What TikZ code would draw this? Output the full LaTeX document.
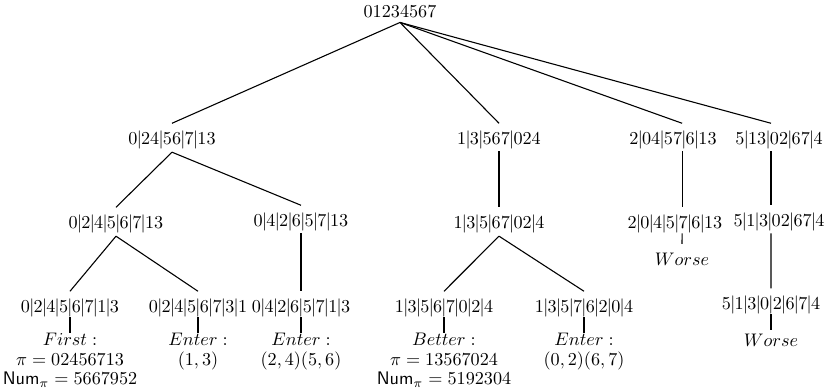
\documentclass[tikz,border=0pt]{standalone}
\newcommand{\vb}{\mathord{\mkern-0.7mu|\mkern-0.7mu}}
\begin{document}
\begin{tikzpicture}[x=0.55pt,y=-0.55pt,
  t/.style={inner sep=0pt, text height=7.5pt, text depth=2.5pt},
  lab/.style={inner sep=0pt, anchor=north, align=center, font=\fontsize{10}{10.6}\selectfont},
  link/.style={line width=0.6pt}]
\useasboundingbox (0,0) rectangle (828,389);
% nodes
\node[t] (r) at (400,13) {$01234567$};
\node[t] (a) at (172,140) {$0\vb24\vb56\vb7\vb13$};
\node[t] (b) at (499,140) {$1\vb3\vb567\vb024$};
\node[t] (c) at (673,140) {$2\vb04\vb57\vb6\vb13$};
\node[t] (d) at (779,140) {$5\vb13\vb02\vb67\vb4$};
\node[t] (aa) at (116,224) {$0\vb2\vb4\vb5\vb6\vb7\vb13$};
\node[t] (ab) at (301,222) {$0\vb4\vb2\vb6\vb5\vb7\vb13$};
\node[t] (ba) at (499,224) {$1\vb3\vb5\vb67\vb02\vb4$};
\node[t] (ca) at (675,224) {$2\vb0\vb4\vb5\vb7\vb6\vb13$};
\node[t] (da) at (779,222) {$5\vb1\vb3\vb02\vb67\vb4$};
\node[t] (aaa) at (70,308) {$0\vb2\vb4\vb5\vb6\vb7\vb1\vb3$};
\node[t] (aab) at (198,308) {$0\vb2\vb4\vb5\vb6\vb7\vb3\vb1$};
\node[t] (aba) at (301,308) {$0\vb4\vb2\vb6\vb5\vb7\vb1\vb3$};
\node[t] (baa) at (444,308) {$1\vb3\vb5\vb6\vb7\vb0\vb2\vb4$};
\node[t] (bab) at (584,308) {$1\vb3\vb5\vb7\vb6\vb2\vb0\vb4$};
\node[t] (daa) at (771,305) {$5\vb1\vb3\vb0\vb2\vb6\vb7\vb4$};
% labels
\node[lab] (laaa) at (70,333) {$First:$\\$\pi=02456713$\\$\mathsf{Num}_\pi=5667952$};
\node[lab] (laab) at (198,333) {$Enter:$\\$(1,3)$};
\node[lab] (laba) at (301,333) {$Enter:$\\$(2,4)(5,6)$};
\node[lab] (lbaa) at (444,333) {$Better:$\\$\pi=13567024$\\$\mathsf{Num}_\pi=5192304$};
\node[lab] (lbab) at (584,333) {$Enter:$\\$(0,2)(6,7)$};
\node[lab] (lca) at (682,253) {$Worse$};
\node[lab] (ldaa) at (771,334) {$Worse$};
% connectors from root
\draw[link] (r.south) -- ([yshift=4pt]a.north);
\draw[link] (r.south) -- ([yshift=4pt]b.north);
\draw[link] (r.south) -- ([xshift=5pt,yshift=4pt]c.north);
\draw[link] (r.south) -- ([xshift=-4.4pt,yshift=4pt]d.north);
% level 1 -> 2
\draw[link] ([yshift=-1.5pt]a.south) -- ([yshift=4pt]aa.north);
\draw[link] ([yshift=-1.5pt]a.south) -- ([yshift=4pt]ab.north);
\draw[link] ([yshift=-1pt]b.south) -- ([yshift=4pt]ba.north);
\draw[link] ([xshift=5pt,yshift=-1pt]c.south) -- ([xshift=3.9pt,yshift=4pt]ca.north);
\draw[link] ([xshift=-4.4pt,yshift=-1pt]d.south) -- ([xshift=-4.4pt,yshift=4pt]da.north);
% level 2 -> 3
\draw[link] ([yshift=-1.5pt]aa.south) -- ([yshift=4pt]aaa.north);
\draw[link] ([yshift=-1.5pt]aa.south) -- ([yshift=4pt]aab.north);
\draw[link] ([yshift=-1pt]ab.south) -- ([yshift=4pt]aba.north);
\draw[link] ([yshift=-1.5pt]ba.south) -- ([yshift=4pt]baa.north);
\draw[link] ([yshift=-1.5pt]ba.south) -- ([yshift=4pt]bab.north);
\draw[link] ([xshift=-4.4pt,yshift=-1pt]da.south) -- ([yshift=4pt]daa.north);
% ticks to labels
\draw[link] (aaa.south) -- (laaa.north);
\draw[link] (aab.south) -- (laab.north);
\draw[link] (aba.south) -- (laba.north);
\draw[link] (baa.south) -- (lbaa.north);
\draw[link] (bab.south) -- (lbab.north);
\draw[link] ([xshift=3.9pt]ca.south) -- ([yshift=5pt]lca.north);
\draw[link] (daa.south) -- ([yshift=2pt]ldaa.north);
\end{tikzpicture}
\end{document}
